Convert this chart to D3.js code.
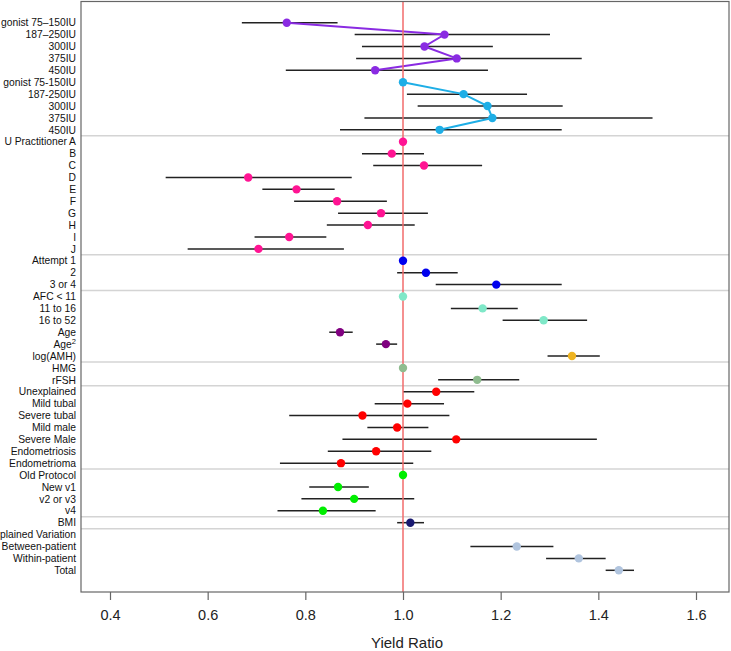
<!DOCTYPE html>
<html>
<head>
<meta charset="utf-8">
<script src="https://cdn.jsdelivr.net/npm/d3@7"></script>
<style>
  html, body { margin: 0; padding: 0; background: #fff; }
  svg { display: block; font-family: "Liberation Sans", Arial, sans-serif; }
</style>
</head>
<body>
<svg id="chart" width="731" height="651"></svg>
<script>
// ---------------- DATA ----------------
const rowLabels = [
  "gonist 75\u2013150IU", "187\u2013250IU", "300IU", "375IU", "450IU",
  "gonist 75-150IU", "187-250IU", "300IU", "375IU", "450IU",
  "U Practitioner A", "B", "C", "D", "E", "F", "G", "H", "I", "J",
  "Attempt 1", "2", "3 or 4",
  "AFC < 11", "11 to 16", "16 to 52", "Age", "Age^2", "log(AMH)",
  "HMG", "rFSH",
  "Unexplained", "Mild tubal", "Severe tubal", "Mild male", "Severe Male", "Endometriosis", "Endometrioma",
  "Old Protocol", "New v1", "v2 or v3", "v4",
  "BMI",
  "plained Variation", "Between-patient", "Within-patient", "Total"
];

const estimates = [
  0.762, 1.085, 1.044, 1.110, 0.943,
  1.000, 1.124, 1.173, 1.183, 1.075,
  1.000, 0.977, 1.043, 0.683, 0.782, 0.865, 0.955, 0.928, 0.767, 0.704,
  1.000, 1.047, 1.191,
  1.000, 1.163, 1.288, 0.871, 0.965, 1.346,
  1.000, 1.152,
  1.068, 1.009, 0.917, 0.988, 1.109, 0.945, 0.873,
  1.000, 0.867, 0.900, 0.836,
  1.015,
  null, 1.233, 1.360, 1.442
];

const lowerCI = [
  0.670, 0.901, 0.916, 0.904, 0.760,
  null, 1.008, 1.030, 0.921, 0.871,
  null, 0.916, 0.939, 0.514, 0.712, 0.777, 0.867, 0.844, 0.696, 0.559,
  null, 0.988, 1.067,
  null, 1.098, 1.204, 0.849, 0.945, 1.296,
  null, 1.072,
  1.000, 0.942, 0.767, 0.927, 0.876, 0.846, 0.748,
  null, 0.808, 0.792, 0.743,
  0.988,
  null, 1.138, 1.293, 1.415
];

const upperCI = [
  0.866, 1.301, 1.184, 1.366, 1.174,
  null, 1.254, 1.327, 1.511, 1.325,
  null, 1.043, 1.162, 0.895, 0.860, 0.967, 1.051, 1.024, 0.843, 0.879,
  null, 1.112, 1.325,
  null, 1.235, 1.377, 0.897, 0.988, 1.403,
  null, 1.238,
  1.146, 1.084, 1.095, 1.052, 1.397, 1.058, 1.021,
  null, 0.930, 1.023, 0.944,
  1.043,
  null, 1.308, 1.415, 1.473
];

const rowSeries = [
  "agonist", "agonist", "agonist", "agonist", "agonist",
  "antagonist", "antagonist", "antagonist", "antagonist", "antagonist",
  "practitioner", "practitioner", "practitioner", "practitioner", "practitioner",
  "practitioner", "practitioner", "practitioner", "practitioner", "practitioner",
  "attempt", "attempt", "attempt",
  "afc", "afc", "afc", "age", "age", "amh",
  "gonadotrophin", "gonadotrophin",
  "diagnosis", "diagnosis", "diagnosis", "diagnosis", "diagnosis", "diagnosis", "diagnosis",
  "protocol", "protocol", "protocol", "protocol",
  "bmi",
  "variation", "variation", "variation", "variation"
];

// number of rows in each block separated by grey rules
const blockSizes = [10, 10, 3, 6, 2, 7, 4, 1, 4];
const connectedSeries = ["agonist", "antagonist"];
const xTicks = [0.4, 0.6, 0.8, 1.0, 1.2, 1.4, 1.6];
const referenceValue = 1.0;
const xTitle = "Yield Ratio";

// ---------------- STYLE ----------------
const seriesColor = {
  agonist: "#8a2be2",
  antagonist: "#1eaee6",
  practitioner: "#ff1493",
  attempt: "#0000ee",
  afc: "#7fe8c8",
  age: "#800080",
  amh: "#eeb422",
  gonadotrophin: "#8fbc8f",
  diagnosis: "#ff0000",
  protocol: "#00ee00",
  bmi: "#191970",
  variation: "#b0c4de"
};

const W = 731, H = 651;
const plot = { left: 81, right: 729, top: 1.5, bottom: 592 };

const svg = d3.select("#chart");

const x = d3.scaleLinear().domain([0.4, 1.6]).range([110, 696]);
const y = d3.scaleLinear().domain([0, rowLabels.length - 1]).range([22.7, 570.3]);

const rows = rowLabels.map((label, i) => ({
  i, label, est: estimates[i], lo: lowerCI[i], hi: upperCI[i], series: rowSeries[i]
}));

// separators
const sepIdx = [];
let acc = 0;
blockSizes.slice(0, -1).forEach(s => { acc += s; sepIdx.push(acc - 0.5); });

svg.append("g").selectAll("line").data(sepIdx).join("line")
  .attr("x1", plot.left).attr("x2", plot.right)
  .attr("y1", d => y(d)).attr("y2", d => y(d))
  .attr("stroke", "#d4d4d4").attr("stroke-width", 1.5);

// CI lines
svg.append("g").selectAll("line").data(rows.filter(r => r.lo != null && r.hi != null)).join("line")
  .attr("x1", d => x(d.lo)).attr("x2", d => x(d.hi))
  .attr("y1", d => y(d.i)).attr("y2", d => y(d.i))
  .attr("stroke", "#222").attr("stroke-width", 1.5);

// connecting lines
const lineGen = d3.line().x(d => x(d.est)).y(d => y(d.i));
connectedSeries.forEach(s => {
  svg.append("path")
    .datum(rows.filter(r => r.series === s && r.est != null))
    .attr("d", lineGen)
    .attr("fill", "none")
    .attr("stroke", seriesColor[s])
    .attr("stroke-width", 2);
});

// reference line
svg.append("line")
  .attr("x1", x(referenceValue)).attr("x2", x(referenceValue))
  .attr("y1", plot.top).attr("y2", plot.bottom)
  .attr("stroke", "#f26b6b").attr("stroke-width", 1.5);

// points
svg.append("g").selectAll("circle").data(rows.filter(r => r.est != null)).join("circle")
  .attr("cx", d => x(d.est)).attr("cy", d => y(d.i))
  .attr("r", 4.2)
  .attr("fill", d => seriesColor[d.series]);

// frame
svg.append("rect")
  .attr("x", plot.left).attr("y", plot.top)
  .attr("width", plot.right - plot.left).attr("height", plot.bottom - plot.top)
  .attr("fill", "none").attr("stroke", "#666").attr("stroke-width", 1.2);

// x axis
const axis = svg.append("g")
  .attr("transform", `translate(0,${plot.bottom})`)
  .call(d3.axisBottom(x).tickValues(xTicks).tickFormat(d3.format(".1f")).tickSize(8).tickPadding(10));
axis.select(".domain").remove();
axis.selectAll(".tick line").attr("stroke", "#666").attr("stroke-width", 1.2);
axis.selectAll(".tick text")
  .attr("font-size", 14.5).attr("fill", "#222")
  .attr("font-family", "'Liberation Sans', Arial, sans-serif");

svg.append("text")
  .attr("x", (plot.left + plot.right) / 2 + 2).attr("y", 648)
  .attr("text-anchor", "middle")
  .attr("font-size", 15).attr("fill", "#222")
  .text(xTitle);

// row labels
const lab = svg.append("g").selectAll("text").data(rows).join("text")
  .attr("x", 76).attr("y", d => y(d.i))
  .attr("dy", "0.36em")
  .attr("text-anchor", "end")
  .attr("font-size", 10.3).attr("fill", "#111");
lab.each(function(d) {
  const t = d3.select(this);
  if (d.label.includes("^")) {
    const [base, sup] = d.label.split("^");
    t.append("tspan").text(base);
    t.append("tspan").attr("dy", "-0.45em").attr("font-size", 7.5).text(sup);
  } else {
    t.text(d.label);
  }
});
</script>
</body>
</html>
